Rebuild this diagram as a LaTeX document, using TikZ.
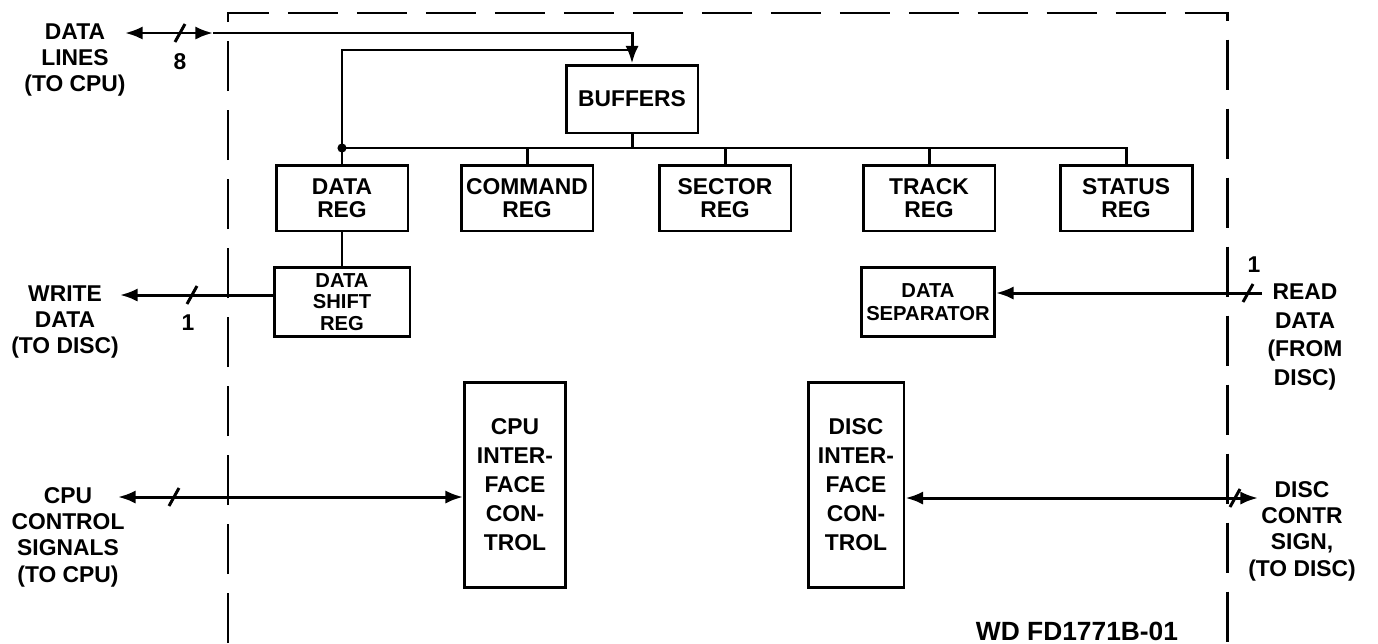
\documentclass[tikz,border=0pt]{standalone}
\usepackage{fontspec}
\setmainfont{Liberation Sans}
\usetikzlibrary{arrows.meta,positioning,calc}
\tikzset{
  wire/.style={line width=1.7pt},
  regbox/.style={rectangle, draw, line width=1.7pt, align=center, inner sep=1pt, minimum width=2.64cm, minimum height=1.32cm, font=\fontsize{13}{13}\selectfont\bfseries},
  ctlbox/.style={rectangle, draw, line width=1.7pt, align=center, inner sep=1pt, minimum width=2.02cm, minimum height=4.1cm, font=\fontsize{13}{16.5}\selectfont\bfseries},
  sig/.style={align=center, inner sep=0pt, font=\fontsize{13}{15}\selectfont\bfseries},
  arrow/.style={wire, -{Latex[length=10pt,width=7.5pt]}},
  dblarrow/.style={wire, {Latex[length=10pt,width=7.5pt]}-{Latex[length=10pt,width=7.5pt]}},
  frame/.style={line width=1.7pt, dash pattern=on 1cm off 0.38cm}
}
\newcommand{\bustick}[1]{\draw[wire] ($(#1)+(-5,9)$) -- ($(#1)+(5,-9)$);}

\begin{document}
\begin{tikzpicture}[x=0.02cm, y=-0.02cm]
  \useasboundingbox (0,0) rectangle (1378,643);
  \draw[frame] (228,643) -- (228,13) -- (1227,13) -- (1227,643);

  \node[regbox, minimum height=1.36cm] (buffers) at (632,99) {BUFFERS};
  \node[regbox] (datareg) at (342,198) {DATA\\REG};
  \node[regbox] (cmdreg) at (527,198) {COMMAND\\REG};
  \node[regbox] (sectorreg) at (725,198) {SECTOR\\REG};
  \node[regbox] (trackreg) at (929,198) {TRACK\\REG};
  \node[regbox] (statusreg) at (1126,198) {STATUS\\REG};
  \node[regbox, minimum width=2.72cm, minimum height=1.38cm, font=\fontsize{11.5}{12.2}\selectfont\bfseries] (shiftreg) at (342,302) {DATA\\SHIFT\\REG};
  \node[regbox, minimum width=2.66cm, minimum height=1.38cm, font=\fontsize{11.5}{13}\selectfont\bfseries] (separator) at (928,302) {DATA\\SEPARATOR};
  \node[ctlbox] (cpuctl) at (515,485) {CPU\\INTER-\\FACE\\CON-\\TROL};
  \node[ctlbox, minimum width=1.92cm] (discctl) at (856,485) {DISC\\INTER-\\FACE\\CON-\\TROL};

  \node[sig] (datalines) at (75,60) {DATA\\LINES\\(TO CPU)};
  \node[sig] (writedata) at (65,322) {WRITE\\DATA\\(TO DISC)};
  \node[sig] (cpusignals) at (68,537) {CPU\\CONTROL\\SIGNALS\\(TO CPU)};
  \node[sig, font=\fontsize{13}{16.5}\selectfont\bfseries] (readdata) at (1305,337) {READ\\DATA\\(FROM\\DISC)};
  \node[sig] (discsignals) at (1302,531) {DISC\\CONTR\\SIGN,\\(TO DISC)};
  \node[sig, font=\fontsize{15}{15}\selectfont\bfseries] (partno) at (1077,631) {WD FD1771B-01};
  \node[sig] (width8) at (180,62) {8};
  \node[sig] (width1a) at (188,323) {1};
  \node[sig] (width1b) at (1254,265) {1};

  \coordinate (busdot) at (342,148);
  \coordinate (dlend) at (125,33);
  \coordinate (dlin) at (213,33);
  \coordinate (loop) at (632,50);
  \coordinate (wdend) at (120,295);
  \coordinate (rdend) at (1262,293);
  \coordinate (cpuend) at (118,497);
  \coordinate (discend) at (1258,498);

  \draw[dblarrow] (dlend) -- (dlin);
  \draw[arrow] (dlin) -| (buffers.north);
  \draw[wire] (busdot) |- (loop);
  \draw[wire] (buffers.south) -- (buffers.south |- busdot);
  \draw[wire] (busdot) -| (statusreg.north);
  \foreach \r in {datareg,cmdreg,sectorreg,trackreg}
    \draw[wire] (\r.north) -- (\r.north |- busdot);
  \fill (busdot) circle (2.6pt);
  \draw[wire] (datareg.south) -- (shiftreg.north);
  \draw[arrow] (shiftreg.west |- wdend) -- (wdend);
  \draw[arrow] (rdend) -- (separator.east |- rdend);
  \draw[dblarrow] (cpuend) -- (cpuctl.west |- cpuend);
  \draw[dblarrow] (discctl.east |- discend) -- (discend);

  \bustick{180,33}
  \bustick{192,295}
  \bustick{174,497}
  \bustick{1248,293}
  \bustick{1235,498}
\end{tikzpicture}
\end{document}
